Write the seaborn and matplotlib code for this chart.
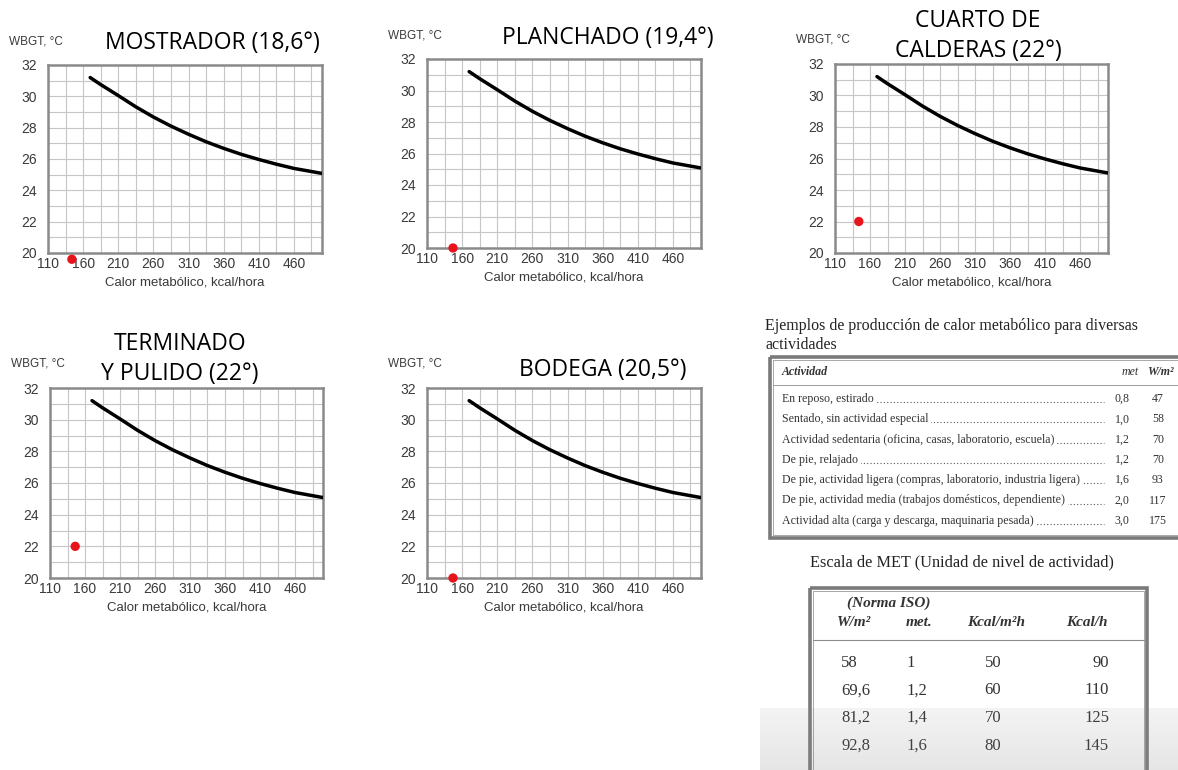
import numpy as np
import matplotlib
matplotlib.use("Agg")
import matplotlib.pyplot as plt
import seaborn as sns
from matplotlib.patches import Rectangle

sns.set_theme(style="white")
plt.rcParams["font.family"] = ["Liberation Sans", "DejaVu Sans"]

W, H = 1178, 770

# ---- data ----
curve_kcal = [170, 185, 210, 235, 260, 285, 310, 335, 360, 385, 410, 435, 460, 485, 500]
curve_wbgt = [31.2, 30.75, 30.05, 29.33, 28.68, 28.1, 27.58, 27.1, 26.68, 26.3, 25.97, 25.67, 25.4, 25.2, 25.08]

panel_titles = ["MOSTRADOR (18,6°)", "PLANCHADO (19,4°)", "CUARTO DE\nCALDERAS (22°)",
                "TERMINADO\nY PULIDO (22°)", "BODEGA (20,5°)"]
dot_kcal = [144, 147, 144, 146, 147]
dot_wbgt = [19.6, 20.0, 22.0, 22.0, 20.0]

x_ticks = [110, 160, 210, 260, 310, 360, 410, 460]
y_ticks = [20, 22, 24, 26, 28, 30, 32]

act_names = ["En reposo, estirado",
             "Sentado, sin actividad especial",
             "Actividad sedentaria (oficina, casas, laboratorio, escuela)",
             "De pie, relajado",
             "De pie, actividad ligera (compras, laboratorio, industria ligera)",
             "De pie, actividad media (trabajos domésticos, dependiente)",
             "Actividad alta (carga y descarga, maquinaria pesada)"]
act_met = ["0,8", "1,0", "1,2", "1,2", "1,6", "2,0", "3,0"]
act_wm2 = ["47", "58", "70", "70", "93", "117", "175"]

met_wm2 = ["58", "69,6", "81,2", "92,8"]
met_met = ["1", "1,2", "1,4", "1,6"]
met_kcalm2h = ["50", "60", "70", "80"]
met_kcalh = ["90", "110", "125", "145"]

# ---- layout (pixel boxes: left, top, right, bottom) ----
boxes = [(48, 65, 322, 253), (427, 59, 701, 248), (835, 64, 1108, 253),
         (50, 388, 323, 578), (427, 388, 701, 578)]
title_pos = [(212, 43), (608, 38), (978, 36), (180, 359), (603, 370)]

fig = plt.figure(figsize=(W / 100, H / 100), dpi=100, facecolor="white")

# overlay axes in pixel coordinates for free text / tables
ov = fig.add_axes([0, 0, 1, 1], zorder=0)
ov.set_xlim(0, W)
ov.set_ylim(H, 0)
ov.axis("off")

TXT = "#3a3a3a"
for i, (l, t, r, b) in enumerate(boxes):
    ax = fig.add_axes([l / W, 1 - b / H, (r - l) / W, (b - t) / H], zorder=2)
    sns.lineplot(x=curve_kcal, y=curve_wbgt, ax=ax, color="black", lw=2.5, zorder=3)
    sns.scatterplot(x=[dot_kcal[i]], y=[dot_wbgt[i]], ax=ax, color="#e8141b", s=45,
                    edgecolor="none", zorder=4, clip_on=False)
    ax.set_xlim(110, 500)
    ax.set_ylim(20, 32)
    ax.set_xticks(x_ticks)
    ax.set_xticks(np.arange(110, 500, 25), minor=True)
    ax.set_yticks(y_ticks)
    ax.set_yticks(np.arange(20, 33, 1), minor=True)
    ax.grid(which="both", color="#c6c6c6", lw=0.8)
    ax.tick_params(which="both", length=0, labelsize=10, labelcolor=TXT)
    ax.tick_params(axis="y", pad=8)
    ax.tick_params(axis="x", pad=3)
    for s in ax.spines.values():
        s.set_color("#8a8a8a")
        s.set_linewidth(1.8)
    ax.set_xlabel("Calor metabólico, kcal/hora", fontsize=9.5, color=TXT, labelpad=4)
    ax.set_ylabel("")
    ax.set_facecolor("white")
    ov.text(l - 12, t - 24, "WBGT, °C", fontsize=8.5, color=TXT, ha="center", va="center")
    tx, ty = title_pos[i]
    ov.text(tx, ty, panel_titles[i], fontsize=16.5, family="Open Sans", color="black",
            ha="center", va="center", linespacing=1.35)

# ---- table 1: ejemplos de producción de calor ----
SERIF = "Liberation Serif"
ov.text(765, 326, "Ejemplos de producción de calor metabólico para diversas",
        family=SERIF, fontsize=11.5, color="#222", va="center")
ov.text(765, 345, "actividades", family=SERIF, fontsize=11.5, color="#222", va="center")
ov.add_patch(Rectangle((770, 357), 420, 181, fill=False, ec="#7a7a7a", lw=2.6, zorder=1))
ov.add_patch(Rectangle((773, 360), 414, 175, fill=False, ec="#9a9a9a", lw=0.6, zorder=1))
ov.plot([773, 1190], [385, 385], color="#9a9a9a", lw=0.7)
ov.text(782, 372, "Actividad", family=SERIF, style="italic", weight="bold", fontsize=8.6,
        color="#333", va="center")
ov.text(1130, 372, "met", family=SERIF, style="italic", fontsize=8.6, color="#333",
        va="center", ha="center")
ov.text(1160, 372, "W/m²", family=SERIF, style="italic", weight="bold", fontsize=8.6,
        color="#333", va="center", ha="center")
for k, name in enumerate(act_names):
    y = 399 + k * 20.3
    ov.plot([790, 1104], [y + 3, y + 3], color="#555", lw=0.8, ls=(0, (1, 2)), zorder=1)
    ov.text(782, y, name, family=SERIF, fontsize=8.6, color="#333", va="center", zorder=2,
            bbox=dict(boxstyle="square,pad=0.25", fc="white", ec="none"))
    ov.text(1122, y, act_met[k], family=SERIF, fontsize=8.6, color="#333", va="center",
            ha="center", zorder=2, bbox=dict(boxstyle="square,pad=0.3", fc="white", ec="none"))
    ov.text(1158, y, act_wm2[k], family=SERIF, fontsize=8.6, color="#333", va="center",
            ha="center")

# ---- table 2: escala de MET ----
ov.text(810, 562, "Escala de MET (Unidad de nivel de actividad)", family=SERIF,
        fontsize=11.7, color="#222", va="center")
ov.add_patch(Rectangle((810, 588), 337, 200, fill=False, ec="#7a7a7a", lw=2.6, zorder=1))
ov.add_patch(Rectangle((813, 591), 331, 200, fill=False, ec="#9a9a9a", lw=0.6, zorder=1))
ov.plot([813, 1144], [640, 640], color="#8a8a8a", lw=0.8)
ov.text(847, 603, "(Norma ISO)", family=SERIF, style="italic", weight="bold", fontsize=11,
        color="#333", va="center")
hdr = [(837, "W/m²", "left"), (906, "met.", "left"), (996, "Kcal/m²h", "center"),
       (1108, "Kcal/h", "right")]
for hx, lab, ha in hdr:
    ov.text(hx, 622, lab, family=SERIF, style="italic", weight="bold", fontsize=11,
            color="#333", va="center", ha=ha)
for k in range(len(met_wm2)):
    y = 663 + k * 27.5
    ov.text(841, y, met_wm2[k], family=SERIF, fontsize=12, color="#333", va="center")
    ov.text(906, y, met_met[k], family=SERIF, fontsize=12, color="#333", va="center")
    ov.text(993, y, met_kcalm2h[k], family=SERIF, fontsize=12, color="#333", va="center",
            ha="center")
    ov.text(1109, y, met_kcalh[k], family=SERIF, fontsize=12, color="#333", va="center",
            ha="right")

# light grey fade over the bottom of the second table
grad = np.zeros((60, 2, 4))
grad[..., :3] = 0.55
grad[..., 3] = np.linspace(0.1, 0.22, 60)[:, None]
ov.imshow(grad, extent=[760, W, H, 708], aspect="auto", zorder=5, interpolation="bilinear")
ov.set_xlim(0, W)
ov.set_ylim(H, 0)

fig.savefig("out.png", dpi=100, facecolor="white")
